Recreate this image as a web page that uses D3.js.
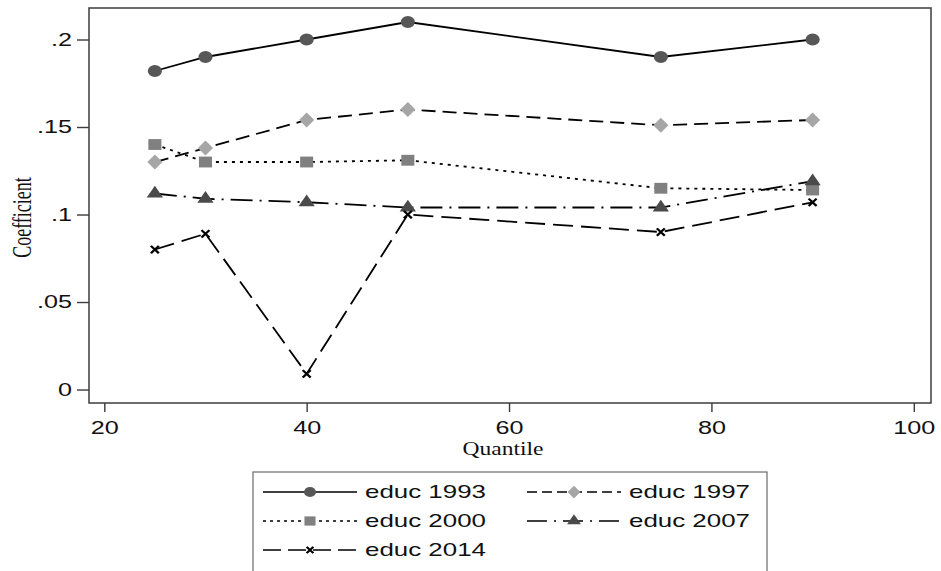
<!DOCTYPE html>
<meta charset="utf-8">

<script src="https://d3js.org/d3.v7.min.js"></script>

<style type="text/css">

body {
  margin: 0;
  background: #fff;
}

.axis text {
  font-family: "Liberation Sans", Arial, sans-serif;
  font-size: 18.5px;
  fill: #111;
}

.axis line {
  stroke: #3c3c3c;
  stroke-width: 1.4px;
}

.axis path {
  display: none;
}

.axisTitle {
  font-family: "Liberation Serif", "Times New Roman", serif;
  fill: #111;
}

.legend text {
  font-family: "Liberation Sans", Arial, sans-serif;
  font-size: 18.5px;
  fill: #111;
}

</style>

<body>
</body>

<script>

// quantiles on the x axis
var quantiles = [25, 30, 40, 50, 75, 90];

// coefficients
var educ1993 = [0.182, 0.190, 0.200, 0.210, 0.190, 0.200];
var educ1997 = [0.130, 0.138, 0.154, 0.160, 0.151, 0.154];
var educ2000 = [0.140, 0.130, 0.130, 0.131, 0.115, 0.114];
var educ2007 = [0.112, 0.109, 0.107, 0.104, 0.104, 0.119];
var educ2014 = [0.080, 0.089, 0.009, 0.100, 0.090, 0.107];

var seriesNames = ['educ 1993', 'educ 1997', 'educ 2000', 'educ 2007', 'educ 2014'];

var xTicks = [20, 40, 60, 80, 100];
var yTicks = [0, 0.05, 0.1, 0.15, 0.2];

// the original graph is stretched sideways, so text and markers are too
var sx = 1.36;

var series = [
  {name: seriesNames[0], values: educ1993, shape: 'circle',   fill: '#575757', dash: null},
  {name: seriesNames[1], values: educ1997, shape: 'diamond',  fill: '#a6a6a6', dash: '14,7'},
  {name: seriesNames[2], values: educ2000, shape: 'square',   fill: '#808080', dash: '3,5'},
  {name: seriesNames[3], values: educ2007, shape: 'triangle', fill: '#4a4a4a', dash: '22,7,2,7'},
  {name: seriesNames[4], values: educ2014, shape: 'cross',    fill: '#000',    dash: '20,8'}
];

var margin = {top: 8, right: 10, bottom: 168, left: 89};
var width = 941 - margin.left - margin.right;
var height = 571 - margin.top - margin.bottom;

var svg = d3.select("body").append("svg")
    .attr("width", 941)
    .attr("height", 571)
  .append("g")
    .attr("transform", "translate(" + margin.left + "," + margin.top + ")");

// scales
var xScale = d3.scaleLinear()
  .domain([18.49, 101.7])
  .range([0, width]);

var yScale = d3.scaleLinear()
  .domain([-0.0077, 0.218])
  .range([height, 0]);

// axes
var xAxis = d3.axisBottom(xScale)
  .tickValues(xTicks)
  .tickSize(9)
  .tickPadding(9);

var yAxis = d3.axisLeft(yScale)
  .tickValues(yTicks)
  .tickSize(12)
  .tickFormat(function(d) { return d === 0 ? '0' : d3.format('.2~f')(d).replace(/^0/, ''); });

svg.append('g')
  .attr('class', 'x axis')
  .attr('transform', 'translate(0,' + height + ')')
  .call(xAxis)
  .selectAll('text')
    .attr('transform', 'scale(' + sx + ',1)');

svg.append('g')
  .attr('class', 'y axis')
  .call(yAxis)
  .selectAll('text')
    .attr('x', -17 / sx)
    .attr('transform', 'scale(' + sx + ',1)');

// frame
svg.append('rect')
  .attr('width', width)
  .attr('height', height)
  .style('fill', 'none')
  .style('stroke', '#3c3c3c')
  .style('stroke-width', 1.5);

// axis titles
svg.append('text')
  .attr('class', 'axisTitle')
  .attr('text-anchor', 'middle')
  .style('font-size', '18px')
  .attr('transform', 'translate(' + (31 - margin.left) + ',' + (height / 2 + 12) + ') scale(1.5,1) rotate(-90)')
  .text('Coefficient');

svg.append('text')
  .attr('class', 'axisTitle')
  .attr('text-anchor', 'middle')
  .style('font-size', '19px')
  .attr('transform', 'translate(' + (width / 2 - 7) + ',' + (height + 52) + ') scale(1.24,1)')
  .text('Quantile');

// marker paths
function markerPath(shape, k) {
  if (shape === 'circle') return d3.symbol(d3.symbolCircle, 110 * k * k)();
  if (shape === 'square') return d3.symbol(d3.symbolSquare, 118 * k * k)();
  if (shape === 'triangle') return d3.symbol(d3.symbolTriangle, 80 * k * k)();
  if (shape === 'diamond') return 'M0,' + (-7.5 * k) + 'L' + (6.3 * k) + ',0L0,' + (7.5 * k) + 'L' + (-6.3 * k) + ',0Z';
  return 'M' + (-3.3 * k) + ',' + (-3.7 * k) + 'L' + (3.3 * k) + ',' + (3.7 * k) +
         'M' + (-3.3 * k) + ',' + (3.7 * k) + 'L' + (3.3 * k) + ',' + (-3.7 * k);
}

function drawMarker(sel, s, k) {
  sel.append('path')
    .attr('d', markerPath(s.shape, k))
    .style('fill', s.shape === 'cross' ? 'none' : s.fill)
    .style('stroke', s.shape === 'cross' ? '#000' : 'none')
    .style('stroke-width', 2);
}

var line = d3.line()
  .x(function(d, i) { return xScale(quantiles[i]); })
  .y(function(d) { return yScale(d); });

// lines then markers
var seriesGroup = svg.selectAll('.seriesGroup')
  .data(series).enter().append('g')
  .attr('class', 'seriesGroup');

seriesGroup.append('path')
  .attr('d', function(d) { return line(d.values); })
  .style('fill', 'none')
  .style('stroke', '#000')
  .style('stroke-width', 1.8)
  .style('stroke-dasharray', function(d) { return d.dash; });

seriesGroup.each(function(s) {
  d3.select(this).selectAll('.marker')
    .data(s.values).enter().append('g')
    .attr('class', 'marker')
    .attr('transform', function(d, i) { return 'translate(' + xScale(quantiles[i]) + ',' + yScale(d) + ') scale(1.2,1)'; })
    .each(function() { drawMarker(d3.select(this), s, 1); });
});

// legend
var legend = d3.select('svg').append('g')
  .attr('class', 'legend');

legend.append('rect')
  .attr('x', 253)
  .attr('y', 472)
  .attr('width', 514)
  .attr('height', 120)
  .style('fill', '#fff')
  .style('stroke', '#6a6a6a')
  .style('stroke-width', 1.2);

var legendDash = [null, '10,5', '3,4', '20,7,2,7', '18,7'];

var legendItem = legend.selectAll('.legendItem')
  .data(series).enter().append('g')
  .attr('class', 'legendItem')
  .attr('transform', function(d, i) {
    return 'translate(' + (i % 2 === 0 ? 263 : 527) + ',' + (492 + Math.floor(i / 2) * 29) + ')';
  });

legendItem.append('line')
  .attr('x1', 0)
  .attr('x2', 94)
  .style('stroke', '#000')
  .style('stroke-width', 1.6)
  .style('stroke-dasharray', function(d, i) { return legendDash[i]; });

legendItem.append('g')
  .attr('transform', 'translate(47,0) scale(1.2,1)')
  .each(function(s) { drawMarker(d3.select(this), s, 0.85); });

legendItem.append('text')
  .attr('transform', 'translate(102,0) scale(1.4,1)')
  .attr('dy', '0.35em')
  .text(function(d) { return d.name; });

</script>
